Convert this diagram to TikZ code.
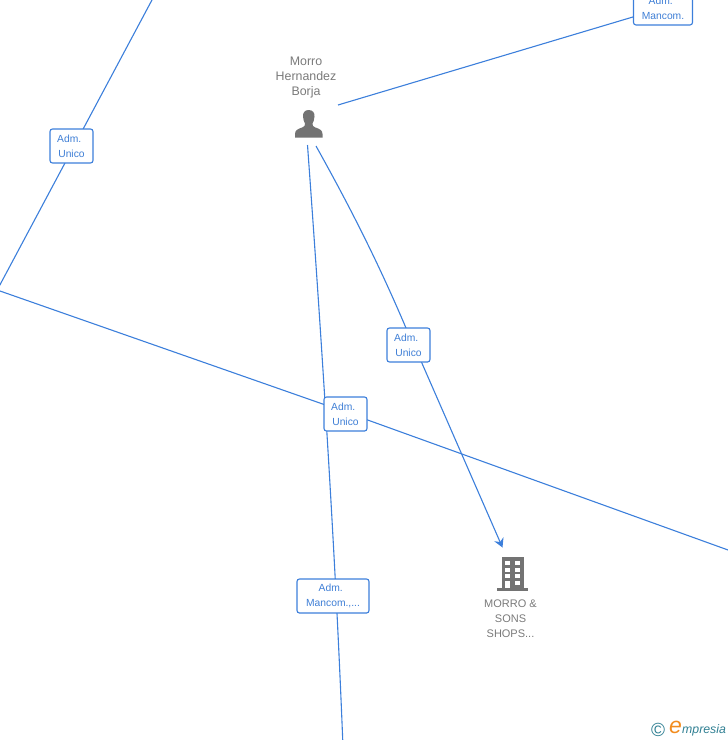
\documentclass[tikz,border=0pt]{standalone}
\usepackage{fontspec}
\setmainfont{Liberation Sans}
\usetikzlibrary{arrows.meta}
\definecolor{linkblue}{HTML}{3C7FDB}
\definecolor{labelblue}{HTML}{3F7FD6}
\definecolor{icongray}{HTML}{737373}
\definecolor{textgray}{HTML}{7A7A7A}
\definecolor{logoteal}{HTML}{2F7F92}
\definecolor{logoorange}{HTML}{F28C1E}
\newcommand{\admword}{Adm.\hspace*{4.5pt}}
\tikzset{
  edge/.style={draw=linkblue,line width=1.1pt},
  rolebox/.style={draw=linkblue,fill=white,line width=1.1pt,rounded corners=2.5pt,align=center,
    text=labelblue,font=\fontsize{10.3}{15}\selectfont,inner sep=0pt,minimum height=34pt},
  caption/.style={align=center,text=textgray,inner sep=0pt},
  icon/.style={fill=icongray,draw=none},
  window/.style={fill=white,draw=none}
}
\begin{document}
\begin{tikzpicture}[x=1pt,y=-1pt]
\useasboundingbox (0,0) rectangle (728,740);
\clip (0,0) rectangle (728,740);
% free ends
\coordinate (offA) at (152.5,-1);
\coordinate (offB) at (-2,288.5);
\coordinate (offC) at (-2,290.3);
\coordinate (offD) at (730,550.7);
\coordinate (offE) at (342.8,742);
\coordinate (persR) at (338,105);
\coordinate (persB) at (316,146);
\coordinate (persC) at (307.5,145);
\coordinate (bldT) at (502.5,547.5);
\coordinate (r1anchor) at (71.5,146);
\coordinate (r2anchor) at (408.5,345);
\coordinate (r3anchor) at (345.5,414);
\coordinate (r4anchor) at (333,596);
\coordinate (r5anchor) at (663,8);
% connectors, all passing beneath the role boxes
\path[edge] (offA) -- (offB);
\path[edge] (offC) -- ([yshift=2pt]r3anchor);
\path[edge] ([yshift=2pt]r3anchor) -- (offD);
\path[edge] (persR) -- (r5anchor);
\path[edge] (persB) .. controls (345,198) and (375,255) .. ([xshift=-2.5pt,yshift=17pt]r2anchor);
\path[edge,-{Stealth[length=9pt,width=10pt,inset=3pt]}] ([xshift=5.5pt]r2anchor) -- (bldT);
\path[edge] (persC) .. controls (318,290) and (334,520) .. (offE);
% role boxes
\node[rolebox,minimum width=43pt] (r1) at (r1anchor) {\admword\\Unico};
\node[rolebox,minimum width=43pt] (r2) at (r2anchor) {\admword\\Unico};
\node[rolebox,minimum width=43pt] (r3) at (r3anchor) {\admword\\Unico};
\node[rolebox,minimum width=72pt] (r4) at (r4anchor) {\admword\\Mancom.,...};
\node[rolebox,minimum width=59pt] (r5) at (r5anchor) {\admword\\Mancom.};
% person
\node[caption,font=\fontsize{12.4}{15}\selectfont] (person) at (306,78) {Morro\\Hernandez\\Borja};
\path[icon] (308.7,110) .. controls (304.5,110) and (302.8,113) .. (303,116.5)
  .. controls (303.2,119.5) and (304,122) .. (305,123.5)
  .. controls (305.2,125.5) and (304.5,126.5) .. (302.5,127.3)
  .. controls (298,129) and (295,130) .. (295,134)
  -- (295,137.5) -- (322.5,137.5) -- (322.5,134)
  .. controls (322.5,130) and (319.5,129) .. (315,127.3)
  .. controls (313,126.5) and (312.3,125.5) .. (312.5,123.5)
  .. controls (313.5,122) and (314.3,119.5) .. (314.5,116.5)
  .. controls (314.7,113) and (313,110) .. (308.7,110) -- cycle;
% building
\path[icon] (501.5,557) rectangle (523.5,588);
\path[icon] (497,588) rectangle (528,590.5);
\foreach \yy in {561,567.5,574}{
  \path[window] (505,\yy) rectangle (510,\yy+4);
  \path[window] (515,\yy) rectangle (520,\yy+4);
}
\path[window] (505,581) rectangle (510,588);
\path[window] (515,580.5) rectangle (520,585);
\node[caption,font=\fontsize{11}{15}\selectfont] (company) at (510.5,619) {MORRO \&\\SONS\\SHOPS...};
% logo
\node[inner sep=0pt,text=logoteal,font=\fontsize{19}{19}\selectfont] (copy) at (658,729.5) {©};
\node[inner sep=0pt,anchor=base west,text=logoteal,font=\fontsize{12.3}{12}\selectfont\itshape] (logo) at (682,733)
  {mpresia};
\node[inner sep=0pt,anchor=base east,text=logoorange,font=\fontsize{23}{23}\selectfont\itshape] (logoe) at (logo.base west) {e};
\end{tikzpicture}
\end{document}
